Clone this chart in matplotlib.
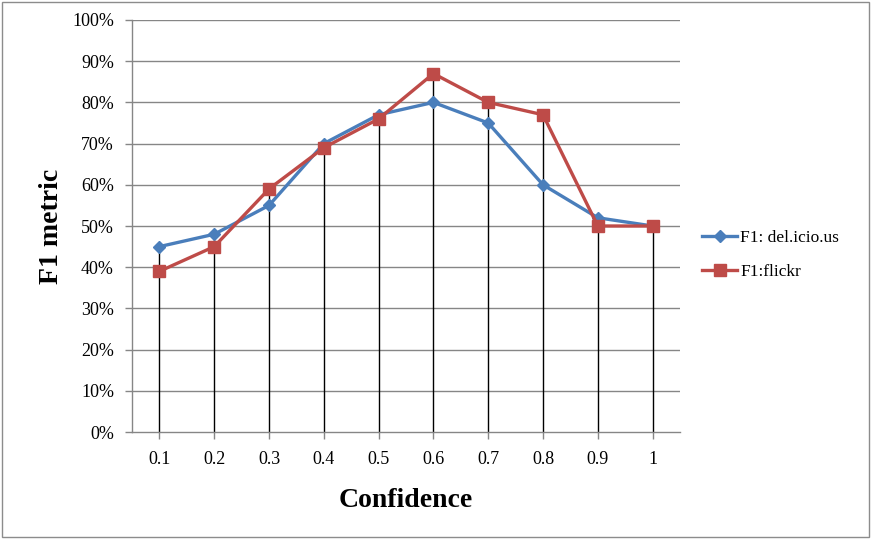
import matplotlib
matplotlib.use("Agg")
import matplotlib.pyplot as plt
from matplotlib.patches import Rectangle
from matplotlib.ticker import FuncFormatter

categories = ["0.1", "0.2", "0.3", "0.4", "0.5", "0.6", "0.7", "0.8", "0.9", "1"]
delicious = [0.45, 0.48, 0.55, 0.70, 0.77, 0.80, 0.75, 0.60, 0.52, 0.50]
flickr = [0.39, 0.45, 0.59, 0.69, 0.76, 0.87, 0.80, 0.77, 0.50, 0.50]
yticks = [i / 10 for i in range(11)]

plt.rcParams['font.family'] = ['Liberation Serif', 'DejaVu Serif']

fig = plt.figure(figsize=(8.71, 5.39), dpi=100)
fig.patches.append(Rectangle((0.002, 0.003), 0.996, 0.994, transform=fig.transFigure,
                             fill=False, edgecolor='#8c8c8c', linewidth=1))
ax = fig.add_axes([0.1516, 0.1985, 0.6291, 0.7644])
x = list(range(len(categories)))

for yv in yticks[1:]:
    ax.axhline(yv, color='#868686', linewidth=1, zorder=1)

tops = [max(a, b) for a, b in zip(delicious, flickr)]
ax.vlines(x, 0, tops, color='black', linewidth=1, zorder=2)

ax.plot(x, delicious, color='#4a7ebb', linewidth=2.4, marker='D', markersize=6.5,
        label='F1: del.icio.us', zorder=3)
ax.plot(x, flickr, color='#be4b48', linewidth=2.4, marker='s', markersize=8.5,
        label='F1:flickr', zorder=4)

ax.set_xlim(-0.5, len(categories) - 0.5)
ax.set_ylim(0, 1)
ax.set_xticks(x)
ax.set_xticklabels(categories)
ax.set_yticks(yticks)
ax.yaxis.set_major_formatter(FuncFormatter(lambda v, p: f"{int(round(v * 100))}%"))
ax.tick_params(axis='both', labelsize=13, color='#868686', length=5, width=1, direction='out')
ax.tick_params(axis='x', pad=9)
ax.tick_params(axis='y', pad=8)
for s in ['top', 'right']:
    ax.spines[s].set_visible(False)
for s in ['left', 'bottom']:
    ax.spines[s].set_color('#868686')
    ax.spines[s].set_linewidth(1)

ax.set_xlabel('Confidence', fontsize=20, fontweight='bold', labelpad=14)
ax.set_ylabel('F1 metric', fontsize=20, fontweight='bold', labelpad=6)

leg = ax.legend(loc='center left', bbox_to_anchor=(1.012, 0.43), frameon=False,
                fontsize=12.5, handlelength=2.0, handletextpad=0.2, labelspacing=1.0)

fig.savefig('out.png', dpi=100)
